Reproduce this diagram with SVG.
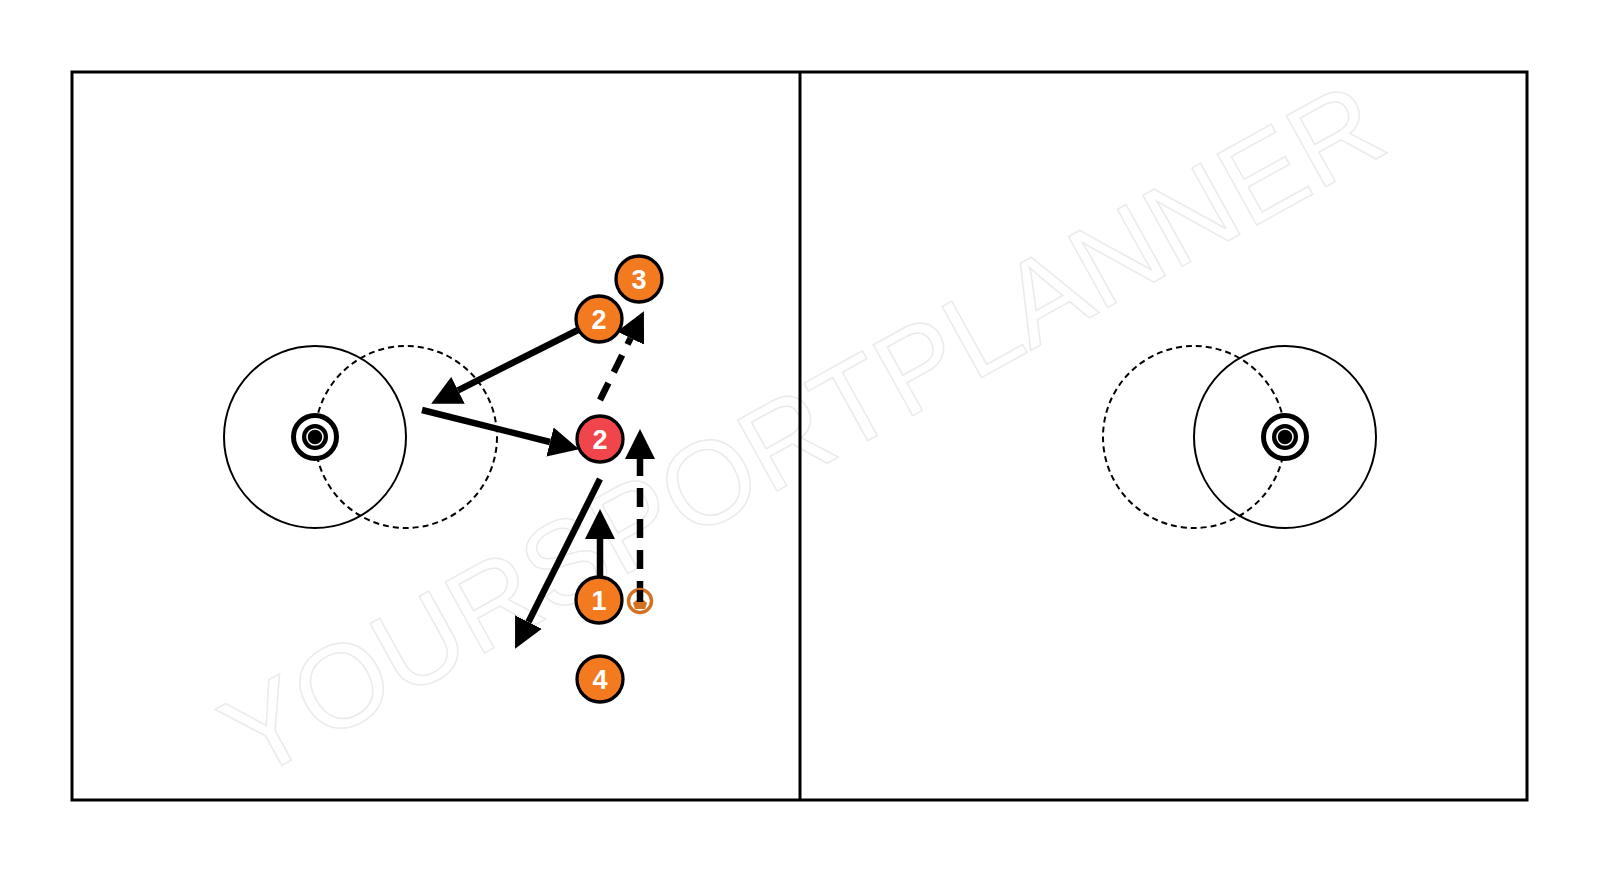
<svg xmlns="http://www.w3.org/2000/svg" width="1600" height="874" viewBox="0 0 1600 874">
  <style>
    .field { fill: none; stroke: #000; stroke-width: 3; }
    .crease { fill: none; stroke: #000; stroke-width: 2; }
    .crease-d { fill: none; stroke: #000; stroke-width: 2; stroke-dasharray: 6 4; }
    .wm { font-family: "Liberation Sans", Arial, sans-serif; font-size: 118px; fill: #fff; stroke: #ebebeb; stroke-width: 1.5; }
    .conn { fill: none; stroke: #000; stroke-width: 6.5; }
    .dash { stroke-dasharray: 19 12; }
    .player { stroke: #000; stroke-width: 3.3; }
    .orange { fill: #f47a20; }
    .red { fill: #f0454b; }
    .lbl { font-family: "Liberation Sans", Arial, sans-serif; font-weight: bold; font-size: 27px; fill: #fff; text-anchor: middle; }
  </style>
  <defs>
    <marker id="ah" markerUnits="userSpaceOnUse" markerWidth="30" markerHeight="30" viewBox="0 -14 28 28" refX="0" refY="0" orient="auto">
      <path d="M0,-14 L28,0 L0,14 Z" fill="#000"/>
    </marker>
    <g id="goal">
      <circle r="21.5" fill="#fff" stroke="#000" stroke-width="5"/>
      <circle r="13" fill="#000"/>
      <circle r="8" fill="none" stroke="#fff" stroke-width="1.5"/>
      <circle r="5" fill="#000"/>
    </g>
  </defs>
  <rect width="1600" height="874" fill="#fff"/>

  <g id="watermark">
    <text class="wm" x="822" y="466" text-anchor="middle" transform="rotate(-29 822 466)">YOURSPORTPLANNER</text>
  </g>

  <g id="field">
    <rect class="field" x="72" y="72" width="1455" height="728"/>
    <line class="field" x1="800" y1="72" x2="800" y2="800"/>
  </g>

  <g id="left-goal-area">
    <circle class="crease" cx="315" cy="437" r="91"/>
    <circle class="crease-d" cx="406" cy="437" r="91"/>
    <use href="#goal" x="315" y="437"/>
  </g>

  <g id="right-goal-area">
    <circle class="crease-d" cx="1194" cy="437" r="91"/>
    <circle class="crease" cx="1285" cy="437" r="91"/>
    <use href="#goal" x="1285" y="437"/>
  </g>

  <g id="connectors">
    <line class="conn" x1="578" y1="330" x2="458" y2="390.3" marker-end="url(#ah)"/>
    <line class="conn" x1="422" y1="410" x2="550" y2="442" marker-end="url(#ah)"/>
    <line class="conn dash" x1="600" y1="400" x2="630.6" y2="338.1" marker-end="url(#ah)"/>
    <line class="conn dash" x1="640" y1="600" x2="640" y2="459" marker-end="url(#ah)"/>
    <line class="conn" x1="600" y1="576" x2="600" y2="539" marker-end="url(#ah)"/>
    <line class="conn" x1="600" y1="479" x2="528.5" y2="622" marker-end="url(#ah)"/>
  </g>

  <g id="ball">
    <circle cx="640" cy="601" r="11.5" fill="#fff" stroke="#d2711f" stroke-width="3.5"/>
    <path d="M633,603 L640,597 L647,603 L645,609 L635,609 Z" fill="#d2711f"/>
    <line x1="640" y1="590" x2="640" y2="602" stroke="#000" stroke-width="6.5"/>
  </g>

  <g id="player-3">
    <circle class="player orange" cx="639" cy="279" r="23"/>
    <text class="lbl" x="639" y="288.5">3</text>
  </g>
  <g id="player-2a">
    <circle class="player orange" cx="599" cy="319" r="23"/>
    <text class="lbl" x="599" y="328.5">2</text>
  </g>
  <g id="player-2b">
    <circle class="player red" cx="600" cy="439" r="23"/>
    <text class="lbl" x="600" y="448.5">2</text>
  </g>
  <g id="player-1">
    <circle class="player orange" cx="599" cy="600" r="23"/>
    <text class="lbl" x="599" y="609.5">1</text>
  </g>
  <g id="player-4">
    <circle class="player orange" cx="600" cy="679" r="23"/>
    <text class="lbl" x="600" y="688.5">4</text>
  </g>
</svg>
